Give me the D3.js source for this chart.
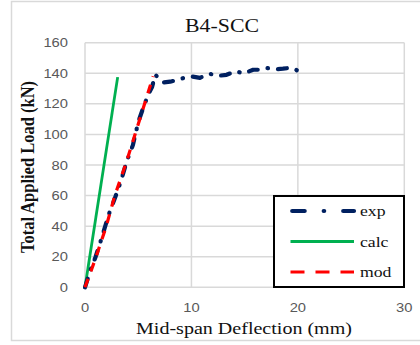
<!DOCTYPE html>
<html>
<head>
<meta charset="utf-8">
<script src="https://cdn.jsdelivr.net/npm/d3@7"></script>
<style>
  html, body { margin: 0; padding: 0; background: #fff; }
  svg { display: block; }
</style>
</head>
<body>
<svg id="chart" width="420" height="345"></svg>
<script>
// Load-deflection data for beam B4-SCC (deflection in mm, load in kN)
const expDefl = [0, 0.5, 1.0, 1.6, 2.2, 2.9, 3.4, 3.9, 4.5, 5.0, 5.5, 6.0, 6.3, 6.6, 6.9, 7.35, 8.0, 8.6, 9.3, 10.0, 10.8, 11.7, 12.5, 13.3, 14.2, 14.9, 15.8, 16.5, 17.1, 18.0, 18.6, 19.2, 19.7, 20.1];
const expLoad = [0, 11, 20, 33, 47, 60, 70, 82, 93, 108, 118, 127, 131, 139, 137, 134, 134.5, 135.5, 137, 138, 137, 139.7, 138.3, 139, 141.4, 139.8, 142.3, 142.3, 143.4, 142.7, 143, 143.5, 143, 140.9];
const calcDefl = [0, 3.07];
const calcLoad = [0, 137.5];
const modDefl = [0, 1.0, 2.0, 2.8, 3.8, 4.7, 5.6, 6.4];
const modLoad = [0, 19, 40, 60, 80, 100, 120, 138];
const xTicks = [0, 10, 20, 30];
const yTicks = [0, 20, 40, 60, 80, 100, 120, 140, 160];
const seriesNames = ["exp", "calc", "mod"];

const svg = d3.select("#chart");
const sx = 1.18; // horizontal text stretch

// chart frame
svg.append("rect")
  .attr("x", 11.5).attr("y", 1.5).attr("width", 420).attr("height", 339)
  .attr("fill", "#fff").attr("stroke", "#d9d9d9").attr("stroke-width", 1.5);

const x = d3.scaleLinear().domain([0, 30]).range([85, 404.3]);
const y = d3.scaleLinear().domain([0, 160]).range([287.3, 42.7]);

function stretchedText(px, py, str) {
  return svg.append("text")
    .attr("transform", `translate(${px},${py}) scale(${sx},1)`)
    .text(str);
}

// grid
const grid = svg.append("g");
grid.selectAll("line.h").data(yTicks).join("line")
  .attr("x1", x(0)).attr("x2", x(30))
  .attr("y1", d => y(d)).attr("y2", d => y(d))
  .attr("stroke", "#d9d9d9").attr("stroke-width", 1.5);
grid.selectAll("line.v").data(xTicks).join("line")
  .attr("y1", y(0)).attr("y2", y(160))
  .attr("x1", d => x(d)).attr("x2", d => x(d))
  .attr("stroke", "#d9d9d9").attr("stroke-width", 1.5);

// tick labels
yTicks.forEach(t => {
  stretchedText(68, y(t) + 4.5, t)
    .attr("text-anchor", "end")
    .attr("font-family", "Liberation Sans, Arial, sans-serif")
    .attr("font-size", 12.5).attr("fill", "#595959");
});
xTicks.forEach(t => {
  stretchedText(x(t), 312, t)
    .attr("text-anchor", "middle")
    .attr("font-family", "Liberation Sans, Arial, sans-serif")
    .attr("font-size", 12.5).attr("fill", "#595959");
});

// titles
stretchedText(222, 32, "B4-SCC")
  .attr("text-anchor", "middle")
  .attr("font-family", "Liberation Serif, Times New Roman, serif")
  .attr("font-size", 18.5).attr("fill", "#111");
stretchedText(244, 334, "Mid-span Deflection (mm)")
  .attr("text-anchor", "middle")
  .attr("font-family", "Liberation Serif, Times New Roman, serif")
  .attr("font-size", 17).attr("fill", "#111");
svg.append("text")
  .attr("transform", `translate(34,167) scale(${sx},1) rotate(-90)`)
  .attr("text-anchor", "middle")
  .attr("font-family", "Liberation Serif, Times New Roman, serif")
  .attr("font-weight", "bold")
  .attr("font-size", 16.5).attr("fill", "#111")
  .text("Total Applied Load (kN)");

// series
const line = d3.line().x(d => x(d[0])).y(d => y(d[1]));
const styles = {
  exp:  { color: "#002060", width: 4.2, dash: "9,10,0.5,10", legendDash: "12.5,19,0.5,19", cap: "round" },
  calc: { color: "#00b050", width: 2.8, dash: null, legendDash: null, cap: "butt" },
  mod:  { color: "#ff0000", width: 3.2, dash: "9,8", legendDash: "14,11", cap: "butt" }
};
const data = {
  exp: d3.zip(expDefl, expLoad),
  calc: d3.zip(calcDefl, calcLoad),
  mod: d3.zip(modDefl, modLoad)
};
["calc", "exp", "mod"].forEach(k => {
  const s = styles[k];
  svg.append("path")
    .attr("d", line(data[k]))
    .attr("fill", "none")
    .attr("stroke", s.color)
    .attr("stroke-width", s.width)
    .attr("stroke-linecap", s.cap)
    .attr("stroke-linejoin", "round")
    .attr("stroke-dasharray", s.dash);
});

// legend
const lg = svg.append("g");
lg.append("rect")
  .attr("x", 274).attr("y", 196).attr("width", 130).attr("height", 91)
  .attr("fill", "#fff").attr("stroke", "#000").attr("stroke-width", 2);
seriesNames.forEach((name, i) => {
  const s = styles[name];
  const ly = 211 + i * 30.5;
  const x1 = name === "exp" ? 292.2 : 290.5;
  const x2 = 354;
  lg.append("line")
    .attr("x1", x1).attr("x2", x2).attr("y1", ly).attr("y2", ly)
    .attr("stroke", s.color).attr("stroke-width", s.width)
    .attr("stroke-linecap", s.cap)
    .attr("stroke-dasharray", s.legendDash);
  stretchedText(360, ly + 5, name)
    .attr("font-family", "Liberation Serif, Times New Roman, serif")
    .attr("font-size", 15).attr("fill", "#111");
});
</script>
</body>
</html>
